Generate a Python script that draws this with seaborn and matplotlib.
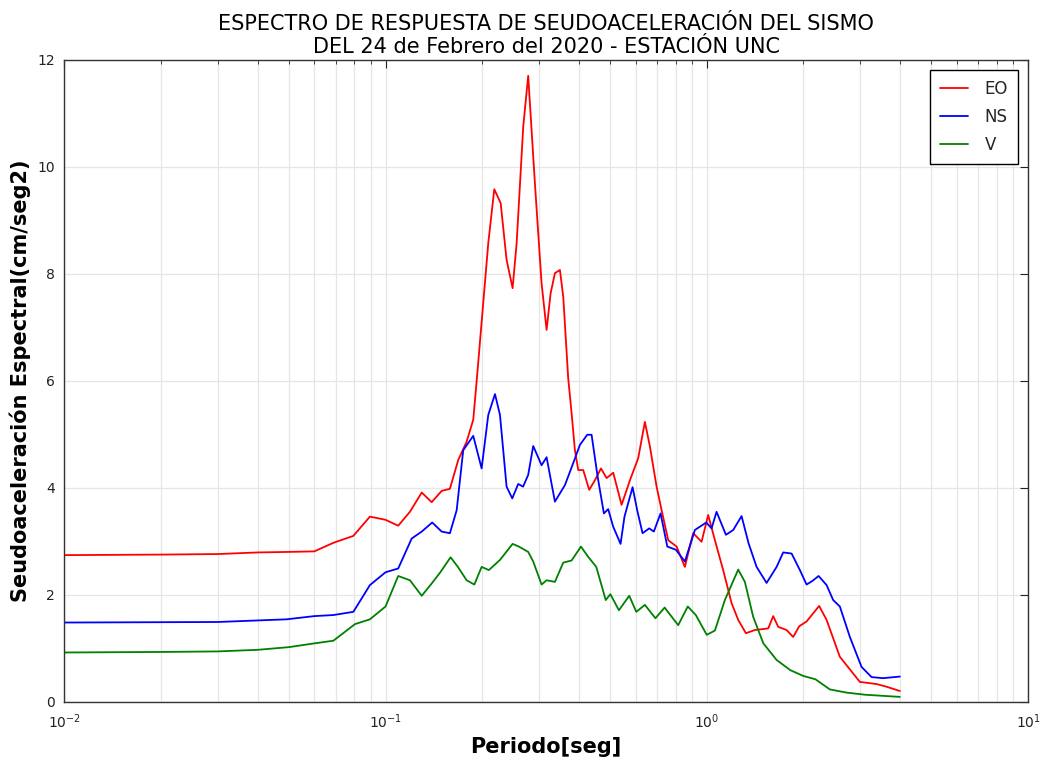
import pandas as pd
import matplotlib
matplotlib.use("Agg")
import matplotlib.pyplot as plt
import seaborn as sns
from matplotlib.ticker import LogLocator, NullFormatter

# Periodo (seg) y seudoaceleracion (cm/seg2)
periodo_eo = [0.01, 0.02, 0.03, 0.04, 0.05, 0.06, 0.0688, 0.0794, 0.0894, 0.1, 0.1095, 0.1191,
              0.1296, 0.1392, 0.1495, 0.1586, 0.1684, 0.1788, 0.1875, 0.1925, 0.2088, 0.218,
              0.2282, 0.2381, 0.2486, 0.2559, 0.2683, 0.278, 0.2917, 0.306, 0.3172, 0.3264,
              0.3367, 0.349, 0.3574, 0.3703, 0.3795, 0.3886, 0.398, 0.4124, 0.4305, 0.4486,
              0.4683, 0.4877, 0.5114, 0.543, 0.5765, 0.6115, 0.6417, 0.6652, 0.6978, 0.7234,
              0.7584, 0.8054, 0.8545, 0.9071, 0.9634, 1.0101, 1.0598, 1.1246, 1.1947, 1.2526,
              1.3236, 1.4115, 1.5532, 1.6098, 1.6683, 1.7718, 1.8575, 1.9395, 2.0448, 2.2377,
              2.3596, 2.5953, 2.9955, 3.377, 3.627, 3.99]
sa_eo = [2.74, 2.75, 2.76, 2.79, 2.80, 2.81, 2.97, 3.10, 3.46, 3.40, 3.29, 3.55,
         3.91, 3.73, 3.94, 3.98, 4.52, 4.86, 5.27, 6.05, 8.57, 9.58,
         9.32, 8.26, 7.73, 8.57, 10.75, 11.70, 9.69, 7.82, 6.95, 7.63,
         8.01, 8.07, 7.57, 6.05, 5.39, 4.70, 4.33, 4.33, 3.96, 4.14,
         4.36, 4.18, 4.28, 3.68, 4.14, 4.55, 5.23, 4.77, 4.02, 3.58,
         3.02, 2.90, 2.52, 3.15, 2.99, 3.49, 3.02, 2.46, 1.84, 1.53,
         1.28, 1.34, 1.37, 1.60, 1.40, 1.34, 1.21, 1.41, 1.50, 1.79,
         1.53, 0.84, 0.37, 0.33, 0.28, 0.20]

periodo_ns = [0.01, 0.03, 0.0492, 0.06, 0.0688, 0.0794, 0.0894, 0.1, 0.1095, 0.1206, 0.1296,
              0.1397, 0.1495, 0.1586, 0.1665, 0.1745, 0.1875, 0.1991, 0.2088, 0.2191, 0.2271,
              0.2381, 0.248, 0.2588, 0.268, 0.278, 0.2882, 0.306, 0.3172, 0.3367, 0.3618,
              0.3839, 0.4027, 0.4245, 0.4379, 0.4572, 0.4783, 0.4932, 0.5114, 0.539, 0.5544,
              0.5875, 0.6072, 0.631, 0.6618, 0.6842, 0.718, 0.7535, 0.8014, 0.8545, 0.9183,
              0.9962, 1.0349, 1.0725, 1.147, 1.2086, 1.2832, 1.3494, 1.4289, 1.535, 1.6497,
              1.7293, 1.8365, 1.9491, 2.0448, 2.1346, 2.2288, 2.36, 2.4743, 2.5953, 2.7889,
              3.0323, 3.2584, 3.54, 3.99]
sa_ns = [1.48, 1.49, 1.54, 1.60, 1.62, 1.68, 2.18, 2.42, 2.49, 3.05, 3.18,
         3.35, 3.18, 3.15, 3.58, 4.70, 4.97, 4.36, 5.36, 5.75, 5.36,
         4.02, 3.80, 4.07, 4.02, 4.24, 4.78, 4.42, 4.57, 3.74, 4.05,
         4.46, 4.80, 4.99, 4.99, 4.21, 3.52, 3.60, 3.27, 2.95, 3.46,
         4.01, 3.58, 3.15, 3.24, 3.18, 3.52, 2.90, 2.84, 2.62, 3.21,
         3.35, 3.24, 3.55, 3.12, 3.21, 3.47, 2.96, 2.52, 2.22, 2.52,
         2.79, 2.77, 2.46, 2.19, 2.26, 2.35, 2.18, 1.90, 1.78, 1.21,
         0.65, 0.46, 0.44, 0.47]

periodo_v = [0.01, 0.02, 0.03, 0.04, 0.05, 0.06, 0.0688, 0.0803, 0.0894, 0.1, 0.1095, 0.1191,
             0.1296, 0.1392, 0.1477, 0.1594, 0.1684, 0.1788, 0.189, 0.1991, 0.2097, 0.2271,
             0.2486, 0.26, 0.278, 0.2882, 0.306, 0.3172, 0.3367, 0.3574, 0.3795, 0.4057,
             0.4271, 0.4529, 0.4846, 0.501, 0.5327, 0.5735, 0.6033, 0.6417, 0.6921, 0.7391,
             0.8147, 0.8725, 0.9244, 0.9996, 1.0598, 1.1384, 1.2526, 1.3138, 1.3941, 1.5,
             1.6497, 1.8196, 2.0, 2.1776, 2.4159, 2.7233, 3.117, 3.99]
sa_v = [0.92, 0.93, 0.94, 0.97, 1.02, 1.09, 1.14, 1.45, 1.54, 1.78, 2.35, 2.27,
        1.98, 2.21, 2.41, 2.70, 2.51, 2.27, 2.19, 2.52, 2.46, 2.65,
        2.95, 2.90, 2.80, 2.62, 2.19, 2.27, 2.24, 2.60, 2.64, 2.90,
        2.71, 2.52, 1.90, 2.01, 1.71, 1.98, 1.68, 1.81, 1.56, 1.76,
        1.43, 1.78, 1.62, 1.25, 1.33, 1.90, 2.47, 2.24, 1.59, 1.09,
        0.78, 0.59, 0.48, 0.42, 0.23, 0.17, 0.13, 0.09]

componentes = ["EO", "NS", "V"]
colores = {"EO": "red", "NS": "blue", "V": "green"}

df = pd.concat([
    pd.DataFrame({"Periodo": periodo_eo, "Sa": sa_eo, "Componente": "EO"}),
    pd.DataFrame({"Periodo": periodo_ns, "Sa": sa_ns, "Componente": "NS"}),
    pd.DataFrame({"Periodo": periodo_v, "Sa": sa_v, "Componente": "V"}),
], ignore_index=True)

sns.set_style("white")
plt.rcParams["font.family"] = ["DejaVu Sans"]
plt.rcParams["xtick.direction"] = "in"
plt.rcParams["ytick.direction"] = "in"

fig = plt.figure(figsize=(10.44, 7.6), dpi=100)
ax = fig.add_axes([0.0616, 0.0767, 0.9231, 0.8447])

sns.lineplot(data=df, x="Periodo", y="Sa", hue="Componente", hue_order=componentes,
             palette=colores, sort=False, estimator=None, linewidth=1.3, ax=ax)

ax.set_xscale("log")
ax.set_xlim(0.01, 10)
ax.set_ylim(0, 12)
ax.set_yticks(range(0, 13, 2))
ax.xaxis.set_minor_locator(LogLocator(base=10, subs=range(2, 10)))
ax.xaxis.set_minor_formatter(NullFormatter())
ax.grid(True, which="major", axis="both", color="#e6e6e6", linewidth=0.9)
ax.grid(True, which="minor", axis="x", color="#e6e6e6", linewidth=0.9)
ax.tick_params(which="both", top=True, right=True, labelsize=10, colors="#222222")
ax.tick_params(axis="x", which="major", pad=8)
ax.tick_params(axis="y", which="major", pad=7)
ax.tick_params(which="major", length=6)
ax.tick_params(which="minor", length=3)
for s in ax.spines.values():
    s.set_color("#333333")
    s.set_linewidth(1.0)

ax.set_title("ESPECTRO DE RESPUESTA DE SEUDOACELERACIÓN DEL SISMO\n"
             "DEL 24 de Febrero del 2020 - ESTACIÓN UNC", fontsize=15, pad=5, color="black")
ax.set_xlabel("Periodo[seg]", fontsize=15, fontweight="bold", color="black")
ax.set_ylabel("Seudoaceleración Espectral(cm/seg2)", fontsize=15, fontweight="bold",
              color="black")

leg = ax.legend(loc="upper right", fontsize=12, fancybox=False, edgecolor="black",
                framealpha=1, handlelength=1.7, borderpad=0.6, labelspacing=0.6,
                handletextpad=1.0, borderaxespad=0.6)
leg.get_frame().set_linewidth(1.0)

fig.savefig("out.png", dpi=100)
